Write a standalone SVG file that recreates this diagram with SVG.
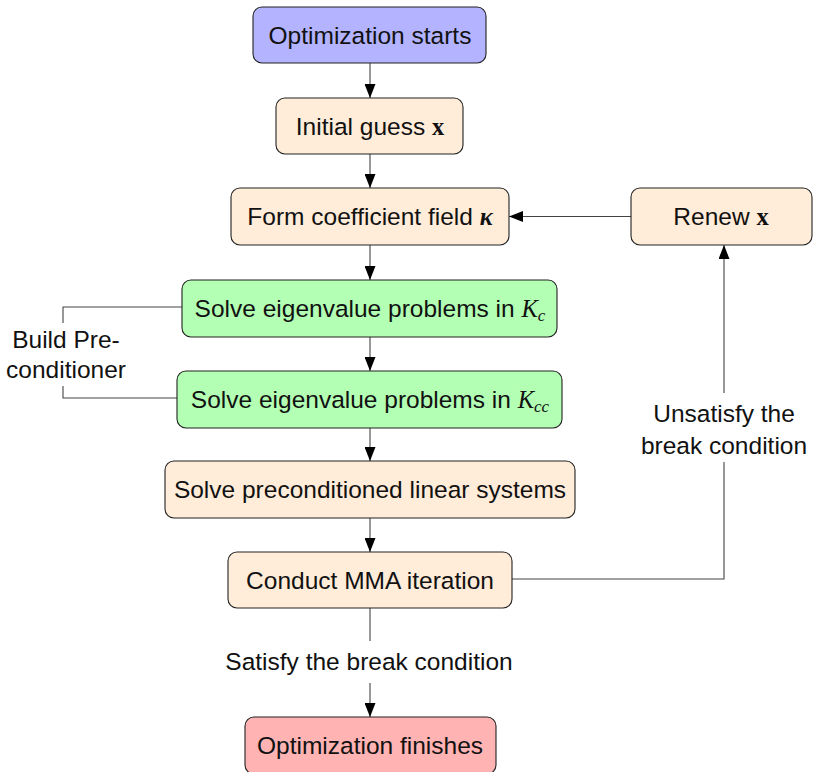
<svg xmlns="http://www.w3.org/2000/svg" width="818" height="772" viewBox="0 0 818 772">
<style>
.box{stroke:#222;stroke-width:1.1}
.st{fill:#b3b3ff}.or{fill:#ffecd9}.gr{fill:#b3ffb3}.rd{fill:#ffb3b3}
text{font-family:"Liberation Sans",Arial,sans-serif;font-size:24.5px;fill:#111;text-anchor:middle}
.m{font-family:"Liberation Serif","Times New Roman",serif;font-weight:bold}
.k{font-family:"Liberation Serif","Times New Roman",serif;font-style:italic;font-weight:bold}
.cal{font-family:"Liberation Serif","Times New Roman",serif;font-style:italic}
.sub{font-family:"Liberation Serif","Times New Roman",serif;font-style:italic;font-size:17px}
.ln{fill:none;stroke:#444;stroke-width:1.1}
</style>
<defs>
<marker id="ah" viewBox="0 0 14 11" refX="14" refY="5.5" markerWidth="14" markerHeight="11" markerUnits="userSpaceOnUse" orient="auto">
<path d="M0,0 L14,5.5 L0,11 Z" fill="#000"/>
</marker>
</defs>
<g id="connectors">
<line class="ln" x1="370" y1="63" x2="370" y2="98" marker-end="url(#ah)"/>
<line class="ln" x1="370" y1="154" x2="370" y2="188" marker-end="url(#ah)"/>
<line class="ln" x1="370" y1="245" x2="370" y2="280" marker-end="url(#ah)"/>
<line class="ln" x1="370" y1="337" x2="370" y2="371" marker-end="url(#ah)"/>
<line class="ln" x1="370" y1="428" x2="370" y2="461" marker-end="url(#ah)"/>
<line class="ln" x1="370" y1="518" x2="370" y2="552" marker-end="url(#ah)"/>
<line class="ln" x1="370" y1="608" x2="370" y2="641"/>
<line class="ln" x1="370" y1="683" x2="370" y2="717" marker-end="url(#ah)"/>
<line class="ln" x1="631" y1="216.5" x2="509" y2="216.5" marker-end="url(#ah)"/>
<polyline class="ln" points="512,579 724,579 724,462"/>
<line class="ln" x1="724" y1="393" x2="724" y2="245" marker-end="url(#ah)"/>
<polyline class="ln" points="182,307 63,307 63,323"/>
<polyline class="ln" points="63,386 63,398 177,398"/>
<text x="724" y="422">Unsatisfy the</text>
<text x="724" y="454">break condition</text>
<text x="369" y="670">Satisfy the break condition</text>
<text x="66" y="348">Build Pre-</text>
<text x="66" y="378">conditioner</text>
</g>
<g id="start">
<rect class="box st" x="253" y="7" width="233" height="56" rx="9"/>
<text x="370" y="43.5">Optimization starts</text>
</g>
<g id="initial">
<rect class="box or" x="276" y="98" width="187" height="56" rx="9"/>
<text x="370" y="134.5">Initial guess <tspan class="m">x</tspan></text>
</g>
<g id="form">
<rect class="box or" x="231" y="188" width="278" height="57" rx="9"/>
<text x="370" y="225">Form coefficient field <tspan class="k">κ</tspan></text>
</g>
<g id="renew">
<rect class="box or" x="631" y="188" width="181" height="57" rx="9"/>
<text x="721" y="225">Renew <tspan class="m">x</tspan></text>
</g>
<g id="kc">
<rect class="box gr" x="182" y="280" width="375" height="57" rx="9"/>
<text x="370" y="317">Solve eigenvalue problems in <tspan class="cal">K</tspan><tspan class="sub" dy="4">c</tspan></text>
</g>
<g id="kcc">
<rect class="box gr" x="177" y="371" width="385" height="57" rx="9"/>
<text x="370" y="408">Solve eigenvalue problems in <tspan class="cal">K</tspan><tspan class="sub" dy="4">cc</tspan></text>
</g>
<g id="precond">
<rect class="box or" x="165" y="461" width="410" height="57" rx="9"/>
<text x="370" y="498">Solve preconditioned linear systems</text>
</g>
<g id="mma">
<rect class="box or" x="228" y="552" width="284" height="56" rx="9"/>
<text x="370" y="588.5">Conduct MMA iteration</text>
</g>
<g id="finish">
<rect class="box rd" x="245" y="717" width="251" height="57" rx="9"/>
<text x="370" y="753.5">Optimization finishes</text>
</g>
</svg>
